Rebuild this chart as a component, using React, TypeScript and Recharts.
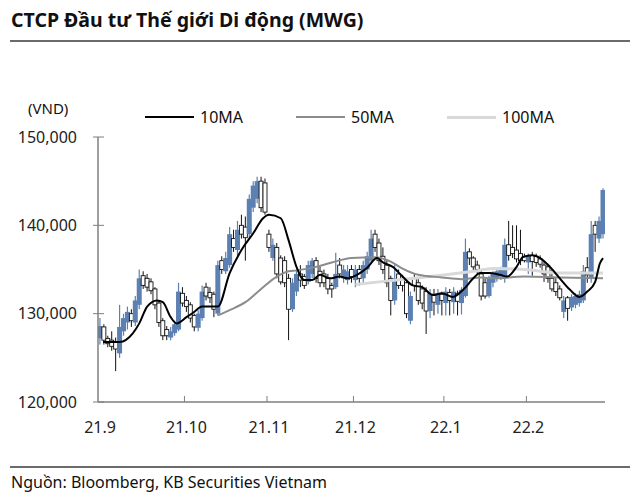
import { ComposedChart, Bar, Line, XAxis, YAxis } from 'recharts';

// giá (nghìn VND) theo từng ngày làm việc, 1/9/2021 -> 28/2/2022
const openPx = [127.2, 128.5, 127.2, 127.0, 126.8, 125.5, 128.0, 129.0, 130.0, 129.0, 131.0, 134.3, 134.0, 133.6, 132.8, 131.2, 129.2, 128.2, 127.3, 127.8, 128.2, 132.3, 131.5, 131.0, 129.8, 128.4, 129.5, 133.0, 132.4, 132.2, 130.0, 136.0, 134.8, 135.5, 138.5, 137.2, 140.0, 139.8, 139.0, 142.0, 143.0, 145.0, 144.8, 139.0, 136.3, 137.5, 136.3, 136.0, 134.0, 130.5, 132.5, 134.5, 134.2, 133.6, 134.5, 136.0, 134.8, 134.5, 134.0, 133.2, 133.0, 135.5, 134.0, 133.8, 135.0, 133.8, 135.0, 134.0, 135.0, 136.0, 139.0, 138.0, 136.5, 135.5, 134.0, 131.5, 134.5, 134.0, 133.5, 129.2, 134.0, 133.5, 132.8, 132.5, 130.3, 132.2, 131.0, 132.2, 131.2, 132.4, 131.3, 132.3, 131.2, 132.0, 137.0, 136.3, 135.5, 134.5, 133.5, 132.0, 133.5, 134.0, 134.2, 134.0, 137.8, 137.5, 137.2, 136.8, 136.5, 135.8, 136.6, 136.5, 136.2, 135.5, 135.3, 134.0, 133.5, 132.8, 130.2, 131.8, 130.7, 131.0, 131.2, 131.5, 135.2, 134.0, 140.0, 138.5, 139.0];
const highPx = [129.5, 128.8, 127.5, 128.0, 127.3, 131.0, 130.0, 130.8, 130.5, 132.0, 135.0, 134.8, 134.5, 134.0, 133.0, 131.5, 129.5, 128.6, 128.5, 129.2, 133.5, 133.0, 132.0, 131.3, 130.0, 130.4, 133.2, 133.5, 133.0, 132.5, 136.0, 136.5, 137.0, 139.8, 139.5, 140.5, 141.2, 141.0, 143.5, 145.0, 145.5, 145.5, 145.3, 139.5, 138.5, 138.0, 136.6, 136.5, 134.5, 134.0, 135.0, 135.5, 134.5, 136.0, 136.3, 136.4, 135.3, 135.0, 134.5, 133.5, 136.9, 136.3, 135.5, 135.5, 135.5, 135.5, 135.5, 136.0, 137.0, 139.5, 139.5, 138.5, 137.5, 136.0, 134.3, 135.5, 135.0, 134.4, 134.0, 132.5, 134.5, 134.0, 133.2, 133.0, 132.8, 132.8, 132.8, 132.5, 133.0, 132.8, 133.0, 132.6, 133.0, 138.5, 137.4, 136.5, 136.0, 135.0, 134.0, 134.3, 134.8, 135.0, 135.3, 138.5, 140.5, 140.0, 140.0, 139.5, 136.8, 136.8, 137.0, 136.8, 136.6, 136.0, 135.6, 135.0, 134.0, 133.2, 132.0, 132.0, 132.2, 132.3, 132.6, 135.5, 136.4, 140.5, 140.5, 141.0, 144.2];
const lowPx = [126.5, 126.5, 126.2, 125.8, 123.5, 125.0, 127.5, 128.2, 128.5, 128.6, 130.5, 132.8, 132.5, 132.2, 130.5, 128.5, 127.0, 127.0, 127.0, 127.5, 128.0, 130.8, 130.2, 129.0, 128.0, 128.0, 129.2, 131.5, 131.2, 129.6, 129.8, 134.5, 134.5, 135.2, 137.0, 136.5, 138.5, 136.0, 138.5, 141.5, 142.5, 141.5, 141.2, 137.0, 136.0, 134.0, 133.3, 133.0, 127.0, 130.2, 132.0, 133.0, 132.8, 133.3, 134.0, 133.5, 133.0, 133.0, 132.2, 131.8, 132.8, 134.0, 133.5, 133.3, 133.5, 133.0, 133.2, 133.5, 134.5, 135.8, 137.0, 135.5, 134.5, 133.0, 129.8, 131.0, 132.8, 132.5, 129.5, 128.8, 132.5, 131.0, 130.5, 127.7, 129.5, 129.8, 130.0, 129.8, 129.8, 129.8, 130.0, 129.8, 129.9, 131.8, 135.5, 134.8, 134.5, 131.5, 131.7, 131.8, 133.0, 133.6, 133.8, 133.5, 136.0, 136.3, 135.8, 135.5, 135.8, 134.5, 134.3, 135.3, 135.2, 133.6, 133.5, 132.5, 132.0, 131.5, 129.5, 129.2, 130.3, 130.6, 130.8, 131.2, 133.5, 133.5, 137.0, 138.0, 138.5];
const closePx = [128.6, 127.0, 126.6, 126.3, 126.0, 128.5, 129.5, 130.2, 129.2, 131.5, 134.0, 133.2, 133.0, 132.6, 131.0, 129.0, 127.5, 127.5, 128.0, 128.8, 132.5, 131.2, 130.8, 129.5, 128.5, 130.0, 132.5, 132.0, 131.8, 130.5, 135.5, 135.0, 136.3, 139.0, 137.5, 139.5, 139.0, 138.6, 143.0, 144.5, 145.0, 142.0, 141.5, 137.5, 137.8, 134.5, 133.6, 133.5, 130.5, 133.5, 134.5, 133.8, 133.2, 135.5, 136.0, 134.0, 133.5, 133.5, 132.8, 132.8, 134.5, 134.5, 135.0, 134.8, 134.2, 135.0, 134.0, 135.5, 136.5, 138.5, 137.5, 136.0, 135.0, 133.5, 131.5, 134.0, 133.2, 133.2, 130.0, 132.0, 133.2, 131.5, 131.2, 130.3, 132.2, 131.3, 132.3, 131.5, 132.5, 131.5, 132.5, 131.4, 132.7, 137.0, 136.3, 135.3, 135.0, 132.0, 132.0, 134.0, 134.5, 134.8, 135.0, 137.8, 136.6, 136.8, 136.2, 136.0, 136.0, 136.5, 135.9, 135.8, 135.6, 134.5, 134.0, 132.8, 132.5, 131.8, 131.5, 130.6, 131.9, 132.0, 132.2, 134.8, 134.4, 139.0, 139.0, 140.5, 144.0];

// đường trung bình, vị trí theo chỉ số ngày
const ma10Idx = [0.8, 5, 8.4, 10, 12, 14.5, 16, 18, 19.5, 22, 23.7, 26, 30, 33, 36, 39, 41.5, 43, 46, 48, 50, 52, 54, 56, 58.5, 61, 63, 65.4, 68, 70.5, 72, 74.5, 77, 79.6, 82, 84.7, 87, 89.8, 92.4, 95, 96.7, 99, 101.8, 103.6, 106, 107.6, 110, 112, 114.5, 117, 119.6, 122, 124, 126, 127.2, 128];
const ma10Val = [126.8, 126.8, 127.8, 128.9, 130.8, 131.5, 131.3, 129.6, 128.9, 129.6, 130.1, 130.8, 130.8, 134.6, 137.2, 139.1, 140.8, 141.2, 140.8, 138.3, 135.3, 133.8, 133.8, 134.4, 134.0, 134.2, 134.0, 134.4, 135.2, 136.3, 135.8, 135.3, 134.2, 133.2, 133.0, 132.1, 132.3, 131.9, 132.7, 134.0, 134.6, 134.6, 134.4, 134.2, 135.3, 136.4, 136.6, 136.3, 135.3, 134.0, 132.7, 131.9, 132.5, 133.6, 135.7, 136.3];
const ma50Idx = [30, 33, 37, 41, 45, 48, 50, 55, 59, 64, 70, 74, 77, 81, 87, 92, 97, 100, 108, 117, 128];
const ma50Val = [129.8, 130.4, 131.3, 132.8, 134.2, 134.8, 134.9, 135.3, 135.8, 136.3, 136.4, 135.9, 135.1, 134.4, 134.1, 133.9, 134.1, 134.0, 134.2, 134.1, 134.0];
const ma100Idx = [65, 71, 80, 88, 95, 100, 108, 117, 128];
const ma100Val = [133.3, 133.6, 134.0, 134.4, 134.8, 135.1, 135.0, 134.6, 134.6];

const monthTicks = [-0.5, 21.5, 42.5, 64.5, 87.5, 108.5];
const monthLabels = ['21.9', '21.10', '21.11', '21.12', '22.1', '22.2'];
const yTicks = [120, 130, 140, 150];

const rows = closePx.map((c, i) => ({ i, open: openPx[i], high: highPx[i], low: lowPx[i], close: c }));
const ma10 = ma10Idx.map((x, k) => ({ i: x, v: ma10Val[k] }));
const ma50 = ma50Idx.map((x, k) => ({ i: x, v: ma50Val[k] }));
const ma100 = ma100Idx.map((x, k) => ({ i: x, v: ma100Val[k] }));

const BLUE = '#5d80b2';
const AXIS = '#7f7f7f';
const FONT = '"Noto Sans", sans-serif';
const BODY_W = 5;

const Candle = (props: any) => {
    const { x, y, width, height, payload } = props;
    const { open, close, high, low } = payload;
    const up = close >= open;
    const h = Math.abs(height);
    const top = height >= 0 ? y : y + height;
    const k = high === low ? 0 : h / (high - low);
    const bTop = top + (high - Math.max(open, close)) * k;
    const bH = Math.max(1.5, Math.abs(close - open) * k);
    const cx = x + width / 2;
    if (up) {
        return (
            <g>
                <line x1={cx} x2={cx} y1={top} y2={top + h} stroke={BLUE} strokeWidth={1.2} />
                <rect x={cx - BODY_W / 2} y={bTop} width={BODY_W} height={bH} fill={BLUE} />
            </g>
        );
    }
    return (
        <g>
            <line x1={cx} x2={cx} y1={top} y2={top + h} stroke="#111" strokeWidth={1} />
            <rect x={cx - BODY_W / 2 + 0.5} y={bTop} width={BODY_W - 1} height={bH} fill="#fff" stroke="#111" strokeWidth={0.9} />
        </g>
    );
};

const YTick = (props: any) => {
    const { x, y, payload } = props;
    const ax = x + 21;
    return (
        <g>
            <line x1={ax - 5} x2={ax + 6} y1={y} y2={y} stroke={AXIS} />
            <text x={x} y={y} dy="0.35em" textAnchor="end" fontSize={16} fill="#222" fontFamily={FONT}>
                {(payload.value * 1000).toLocaleString('en-US')}
            </text>
        </g>
    );
};

const XTick = (props: any) => {
    const { x, y, payload, index } = props;
    const ay = y - 19;
    return (
        <g>
            {index > 0 && <line x1={x} x2={x} y1={ay} y2={ay - 6} stroke={AXIS} />}
            <text x={x + 2} y={y} dy="0.75em" textAnchor="middle" fontSize={16} fill="#222" fontFamily={FONT}>
                {monthLabels[index]}
            </text>
        </g>
    );
};

const legendItems = [
    { name: '10MA', color: '#000', w: 2, left: 145 },
    { name: '50MA', color: '#8c8c8c', w: 2.5, left: 296 },
    { name: '100MA', color: '#d9d9d9', w: 3, left: 447 },
];

export default function App() {
    return (
        <div style={{ position: 'relative', width: 640, height: 499, background: '#fff', fontFamily: FONT, color: '#111' }}>
            <style>{'body{margin:0}'}</style>
            <div style={{ position: 'absolute', left: 11, top: 6, fontSize: 19.5, fontWeight: 700, whiteSpace: 'nowrap' }}>
                CTCP Đầu tư Thế giới Di động (MWG)
            </div>
            <div style={{ position: 'absolute', left: 10, top: 40, width: 620, height: 2, background: '#6b6b6b' }} />
            <div style={{ position: 'absolute', left: 28, top: 98, fontSize: 15 }}>(VND)</div>
            {legendItems.map(it => (
                <div key={it.name} style={{ position: 'absolute', left: it.left, top: 106, display: 'flex', alignItems: 'center', fontSize: 16 }}>
                    <div style={{ width: 49, height: it.w, background: it.color, marginRight: 6 }} />
                    <span>{it.name}</span>
                </div>
            ))}
            <div style={{ position: 'absolute', left: 0, top: 0 }}>
                <ComposedChart width={640} height={499} data={rows} margin={{ top: 137, right: 35, bottom: 57, left: 0 }}>
                    <XAxis
                        dataKey="i"
                        type="number"
                        domain={[-0.5, 128.5]}
                        ticks={monthTicks}
                        interval={0}
                        height={40}
                        tickSize={0}
                        tickMargin={19}
                        tick={<XTick />}
                        axisLine={{ stroke: AXIS, strokeWidth: 1.5 }}
                        allowDataOverflow
                    />
                    <YAxis
                        type="number"
                        domain={[120, 150]}
                        ticks={yTicks}
                        width={98}
                        tickSize={0}
                        tickMargin={21}
                        tick={<YTick />}
                        axisLine={{ stroke: AXIS, strokeWidth: 1.5 }}
                        allowDataOverflow
                    />
                    <Bar dataKey={(d: any) => [d.low, d.high]} barSize={4} shape={<Candle />} isAnimationActive={false} />
                    <Line data={ma100} dataKey="v" type="monotone" stroke="#d9d9d9" strokeWidth={3} dot={false} isAnimationActive={false} />
                    <Line data={ma50} dataKey="v" type="monotone" stroke="#8c8c8c" strokeWidth={2} dot={false} isAnimationActive={false} />
                    <Line data={ma10} dataKey="v" type="monotone" stroke="#000" strokeWidth={2} dot={false} isAnimationActive={false} />
                </ComposedChart>
            </div>
            <div style={{ position: 'absolute', left: 10, top: 466, width: 620, height: 1.5, background: '#6b6b6b' }} />
            <div style={{ position: 'absolute', left: 11, top: 471, fontSize: 16 }}>Nguồn: Bloomberg, KB Securities Vietnam</div>
        </div>
    );
}
